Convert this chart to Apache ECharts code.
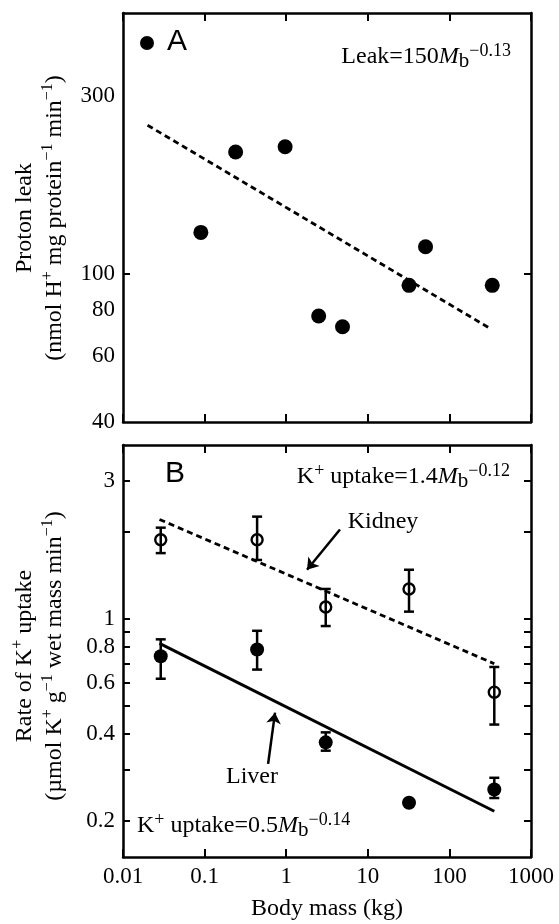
<!DOCTYPE html>
<html><head><meta charset="utf-8">
<script src="https://cdn.jsdelivr.net/npm/echarts@6/dist/echarts.min.js"></script>
<style>html,body{margin:0;padding:0;background:#fff}#c{width:559px;height:924px}</style>
</head><body><div id="c"></div>
<script>
// ---- Panel A: proton leak ----
const leakMass  = [0.09, 0.24, 0.97, 2.5, 4.9, 32, 51, 335];
const leakValue = [129, 212, 219, 77, 72, 93, 118, 93];
const leakFitMass  = [0.02, 308];
const leakFitValue = [250, 71.5];

// ---- Panel B: K+ uptake ----
const kMass = [0.029, 0.44, 3.05, 32, 355];
const kidneyValue = [1.88, 1.88, 1.10, 1.27, 0.558];
const kidneyLow   = [1.69, 1.60, 0.945, 1.06, 0.431];
const kidneyHigh  = [2.07, 2.26, 1.27, 1.48, 0.682];
const liverValue  = [0.743, 0.784, 0.374, 0.231, 0.257];
const liverLow    = [0.621, 0.668, 0.35, null, 0.24];
const liverHigh   = [0.85, 0.91, 0.405, null, 0.282];
const kidneyFitMass  = [0.028, 355];
const kidneyFitValue = [2.21, 0.70];
const liverFitMass   = [0.028, 355];
const liverFitValue  = [0.823, 0.216];

// annotation arrows (tail -> tip, in data units)
const kidneyArrow = [[4.56, 2.04], [1.80, 1.48]];
const liverArrow  = [[0.60, 0.315], [0.73, 0.474]];

// ---- ticks / labels ----
const xTicks   = [0.01, 0.1, 1, 10, 100, 1000];
const yTicksA  = [100];
const yLabelsA = [40, 60, 80, 100, 300];
const yTicksB  = [0.2, 0.3, 0.4, 0.5, 0.6, 0.7, 0.8, 0.9, 1, 2, 3];
const yLabelsB = [0.2, 0.4, 0.6, 0.8, 1, 3];

const SERIF = "'Liberation Serif', 'Times New Roman', serif";
const SANS = "'Liberation Sans', Arial, sans-serif";
const zip = (a, b) => a.map((v, i) => [v, b[i]]);
const errData = (x, lo, hi) => x.map((v, i) => [v, lo[i], hi[i]]).filter(d => d[1] != null);

const chart = echarts.init(document.getElementById('c'), null, {renderer: 'canvas'});

const axisLineStyle = {show: true, lineStyle: {color: '#000', width: 2.5}};
function xAx(grid, pos, labels, name) {
  return {
    type: 'log', logBase: 10, gridIndex: grid, position: pos, min: 0.01, max: 1000,
    axisLine: axisLineStyle, splitLine: {show: false},
    axisTick: {show: true, inside: true, length: 8, lineStyle: {color: '#000', width: 2}, customValues: xTicks},
    axisLabel: labels ? {show: true, customValues: xTicks, formatter: v => String(v), color: '#000',
      fontFamily: SERIF, fontSize: 23, margin: 8} : {show: false},
    name: name || '', nameLocation: 'middle', nameGap: 40,
    nameTextStyle: {fontFamily: SERIF, fontSize: 24, color: '#000'}
  };
}
function yAx(grid, pos, min, max, ticks, labels) {
  return {
    type: 'log', logBase: 10, gridIndex: grid, position: pos, min: min, max: max,
    axisLine: axisLineStyle, splitLine: {show: false},
    axisTick: {show: true, inside: true, length: 7, lineStyle: {color: '#000', width: 2}, customValues: ticks},
    axisLabel: labels ? {show: true, customValues: labels, formatter: v => String(v), color: '#000',
      fontFamily: SERIF, fontSize: 23, margin: 8} : {show: false}
  };
}

const richBase = {
  n: {fontFamily: SERIF, fontSize: 24, lineHeight: 30, color: '#000'},
  i: {fontFamily: SERIF, fontSize: 24, fontStyle: 'italic', lineHeight: 30, color: '#000'},
  sub: {fontFamily: SERIF, fontSize: 21, lineHeight: 22, verticalAlign: 'bottom', color: '#000'},
  sup: {fontFamily: SERIF, fontSize: 18, lineHeight: 17, verticalAlign: 'top', color: '#000'}
};
const richTitle = {
  n: {fontFamily: SERIF, fontSize: 24, lineHeight: 30, color: '#000'},
  sup: {fontFamily: SERIF, fontSize: 16, lineHeight: 16, verticalAlign: 'top', color: '#000'}
};

const option = {
  animation: false,
  backgroundColor: '#fff',
  grid: [
    {left: 123, top: 13, width: 408, height: 409},
    {left: 123, top: 445, width: 408, height: 412}
  ],
  xAxis: [
    xAx(0, 'bottom', false), xAx(0, 'top', false),
    xAx(1, 'bottom', true, 'Body mass (kg)'), xAx(1, 'top', false)
  ],
  yAxis: [
    yAx(0, 'left', 40, 500, yTicksA, yLabelsA), yAx(0, 'right', 40, 500, yTicksA, null),
    yAx(1, 'left', 0.15, 4, yTicksB, yLabelsB), yAx(1, 'right', 0.15, 4, yTicksB, null)
  ],
  series: [
    {type: 'line', xAxisIndex: 0, yAxisIndex: 0, data: zip(leakFitMass, leakFitValue), symbol: 'none',
      lineStyle: {color: '#000', width: 2.8, type: [6, 4]}, z: 2},
    {type: 'scatter', xAxisIndex: 0, yAxisIndex: 0, data: zip(leakMass, leakValue), symbol: 'circle',
      symbolSize: 15, itemStyle: {color: '#000', opacity: 1}, z: 3},

    {type: 'line', xAxisIndex: 2, yAxisIndex: 2, data: zip(kidneyFitMass, kidneyFitValue), symbol: 'none',
      lineStyle: {color: '#000', width: 2.8, type: [6, 4]}, z: 2},
    {type: 'line', xAxisIndex: 2, yAxisIndex: 2, data: zip(liverFitMass, liverFitValue), symbol: 'none',
      lineStyle: {color: '#000', width: 3}, z: 2},
    {type: 'custom', xAxisIndex: 2, yAxisIndex: 2, data: errData(kMass, kidneyLow, kidneyHigh).concat(errData(kMass, liverLow, liverHigh)),
      encode: {x: 0, y: [1, 2]}, z: 4,
      renderItem: function (params, api) {
        const x = api.value(0);
        const lo = api.coord([x, api.value(1)]);
        const hi = api.coord([x, api.value(2)]);
        const w = 5;
        const st = {stroke: '#000', lineWidth: 2.5};
        return {type: 'group', children: [
          {type: 'line', shape: {x1: lo[0], y1: lo[1], x2: hi[0], y2: hi[1]}, style: st},
          {type: 'line', shape: {x1: lo[0] - w, y1: lo[1], x2: lo[0] + w, y2: lo[1]}, style: st},
          {type: 'line', shape: {x1: hi[0] - w, y1: hi[1], x2: hi[0] + w, y2: hi[1]}, style: st}
        ]};
      }},
    {type: 'scatter', xAxisIndex: 2, yAxisIndex: 2, data: zip(kMass, kidneyValue), symbol: 'circle',
      symbolSize: 11, itemStyle: {color: 'rgba(255,255,255,0)', borderColor: '#000', borderWidth: 2.4, opacity: 1}, z: 5},
    {type: 'scatter', xAxisIndex: 2, yAxisIndex: 2, data: zip(kMass, liverValue), symbol: 'circle',
      symbolSize: 14, itemStyle: {color: '#000', opacity: 1}, z: 5},
    {type: 'lines', coordinateSystem: 'cartesian2d', xAxisIndex: 2, yAxisIndex: 2, z: 6,
      symbol: ['none', 'arrow'], symbolSize: [0, 11],
      lineStyle: {color: '#000', width: 2.5, opacity: 1, curveness: 0},
      data: [{coords: kidneyArrow}, {coords: liverArrow}]}
  ],
  graphic: [
    {type: 'circle', shape: {cx: 147, cy: 43, r: 7}, style: {fill: '#000'}, z: 10},
    {type: 'text', x: 177, y: 42, style: {text: 'A', font: "30px " + SANS, fill: '#000', textAlign: 'center', textVerticalAlign: 'middle'}, z: 10},
    {type: 'text', x: 175, y: 474, style: {text: 'B', font: "30px " + SANS, fill: '#000', textAlign: 'center', textVerticalAlign: 'middle'}, z: 10},
    {type: 'text', x: 511, y: 57, z: 10, style: {text: '{n|Leak=150}{i|M}{sub|b}{sup|\u22120.13}', rich: richBase,
      textAlign: 'right', textVerticalAlign: 'middle'}},
    {type: 'text', x: 510, y: 477, z: 10, style: {text: '{n|K}{sup|+}{n| uptake=1.4}{i|M}{sub|b}{sup|\u22120.12}', rich: richBase,
      textAlign: 'right', textVerticalAlign: 'middle'}},
    {type: 'text', x: 137, y: 826, z: 10, style: {text: '{n|K}{sup|+}{n| uptake=0.5}{i|M}{sub|b}{sup|\u22120.14}', rich: richBase,
      textAlign: 'left', textVerticalAlign: 'middle'}},
    {type: 'text', x: 383, y: 522, z: 10, style: {text: 'Kidney', font: "24px " + SERIF, fill: '#000', textAlign: 'center', textVerticalAlign: 'middle'}},
    {type: 'text', x: 252, y: 777, z: 10, style: {text: 'Liver', font: "24px " + SERIF, fill: '#000', textAlign: 'center', textVerticalAlign: 'middle'}},
    {type: 'text', x: 40, y: 218, rotation: Math.PI / 2, z: 10, style: {
      text: '{n|Proton leak}\n{n|(nmol H}{sup|+}{n| mg protein}{sup|\u22121}{n| min}{sup|\u22121}{n|)}',
      rich: richTitle, textAlign: 'center', textVerticalAlign: 'middle'}},
    {type: 'text', x: 40, y: 656, rotation: Math.PI / 2, z: 10, style: {
      text: '{n|Rate of K}{sup|+}{n| uptake}\n{n|(\u00b5mol K}{sup|+}{n| g}{sup|\u22121}{n| wet mass min}{sup|\u22121}{n|)}',
      rich: richTitle, textAlign: 'center', textVerticalAlign: 'middle'}}
  ]
};
chart.setOption(option);
</script>
</body></html>
